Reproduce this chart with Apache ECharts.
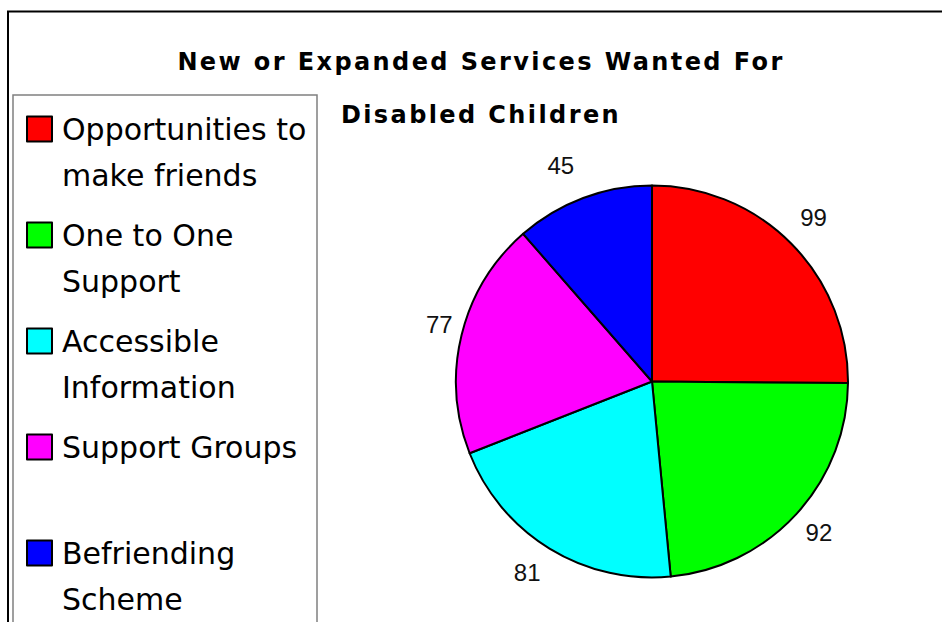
<!DOCTYPE html>
<html>
<head>
<meta charset="utf-8">
<title>New or Expanded Services Wanted For Disabled Children</title>
<script src="https://cdn.jsdelivr.net/npm/echarts@6/dist/echarts.min.js"></script>
<style>
  html, body { margin: 0; padding: 0; background: #fff; }
  #chart { width: 942px; height: 622px; }
  /* the bold heading is set with wide tracking */
  #chart text[style*="bold"] { letter-spacing: 2.4px; }
</style>
</head>
<body>
<div id="chart"></div>
<script>
// Services requested, in slice order (clockwise from 12 o'clock)
const categories = [
  'Opportunities to make friends',
  'One to One Support',
  'Accessible Information',
  'Support Groups',
  'Befriending Scheme'
];
const values = [99, 92, 81, 77, 45];

const palette = ['#ff0000', '#00ff00', '#00ffff', '#ff00ff', '#0000ff'];

const LEGEND_FONT = '30px "DejaVu Sans"';
const LEGEND_TEXT_WIDTH = 255;

// every legend entry takes two text lines; short names get a blank second line
const measureCtx = document.createElement('canvas').getContext('2d');
measureCtx.font = LEGEND_FONT;
function legendLabel(name) {
  return measureCtx.measureText(name).width <= LEGEND_TEXT_WIDTH ? name + '\n\u00a0' : name;
}

const chart = echarts.init(document.getElementById('chart'), null, { renderer: 'svg' });

const pieData = categories.map((name, i) => ({
  name: name,
  value: values[i],
  itemStyle: { color: palette[i] }
}));

chart.setOption({
  backgroundColor: '#ffffff',
  animation: false,
  title: {
    text: 'New or Expanded Services Wanted For\nDisabled Children',
    left: 481,
    top: 35.5,
    textAlign: 'center',
    padding: 0,
    textStyle: {
      fontFamily: 'DejaVu Sans',
      fontWeight: 'bold',
      fontSize: 24,
      lineHeight: 53,
      color: '#000'
    }
  },
  legend: {
    orient: 'vertical',
    left: 13,
    top: 95,
    height: 2000,
    padding: [10.5, 0, 10, 13],
    borderColor: '#808080',
    borderWidth: 1.5,
    backgroundColor: 'transparent',
    selectedMode: false,
    itemGap: 12,
    itemWidth: 30,
    itemHeight: 92,
    // square swatch sitting beside the first text line of each entry
    icon: 'path://M0,0M0,10H25V35H0ZM30,92',
    itemStyle: { borderColor: '#000', borderWidth: 2 },
    formatter: legendLabel,
    textStyle: {
      fontFamily: 'DejaVu Sans',
      fontSize: 30,
      lineHeight: 46,
      width: LEGEND_TEXT_WIDTH,
      height: 92,
      overflow: 'break',
      color: '#000'
    },
    data: categories
  },
  graphic: [{
    type: 'rect',
    silent: true,
    shape: { x: 8, y: 11.5, width: 1000, height: 700 },
    style: { fill: 'none', stroke: '#000', lineWidth: 2 }
  }],
  series: [{
    type: 'pie',
    center: [652, 381.5],
    radius: 196,
    startAngle: 90,
    clockwise: true,
    avoidLabelOverlap: false,
    emphasis: { disabled: true },
    itemStyle: { borderColor: '#000', borderWidth: 2 },
    label: {
      show: true,
      position: 'outside',
      formatter: '{c}',
      fontFamily: 'Liberation Sans',
      fontSize: 24,
      color: '#111'
    },
    labelLine: {
      show: true,
      length: 10,
      length2: 0,
      lineStyle: { opacity: 0 }
    },
    // value labels float just clear of the rim, centred on their own box
    labelLayout: function (p) {
      const pts = p.labelLinePoints;
      if (!pts) return {};
      const dx = pts[1][0] - pts[0][0];
      const dy = pts[1][1] - pts[0][1];
      const len = Math.sqrt(dx * dx + dy * dy) || 1;
      const ux = dx / len, uy = dy / len;
      const half = p.labelRect.width / 2 + 9;
      return {
        x: pts[0][0] + (ux < 0 ? -half : half),
        y: pts[0][1] + uy * 32 - 3,
        align: 'center',
        verticalAlign: 'middle'
      };
    },
    data: pieData
  }]
});
</script>
</body>
</html>
